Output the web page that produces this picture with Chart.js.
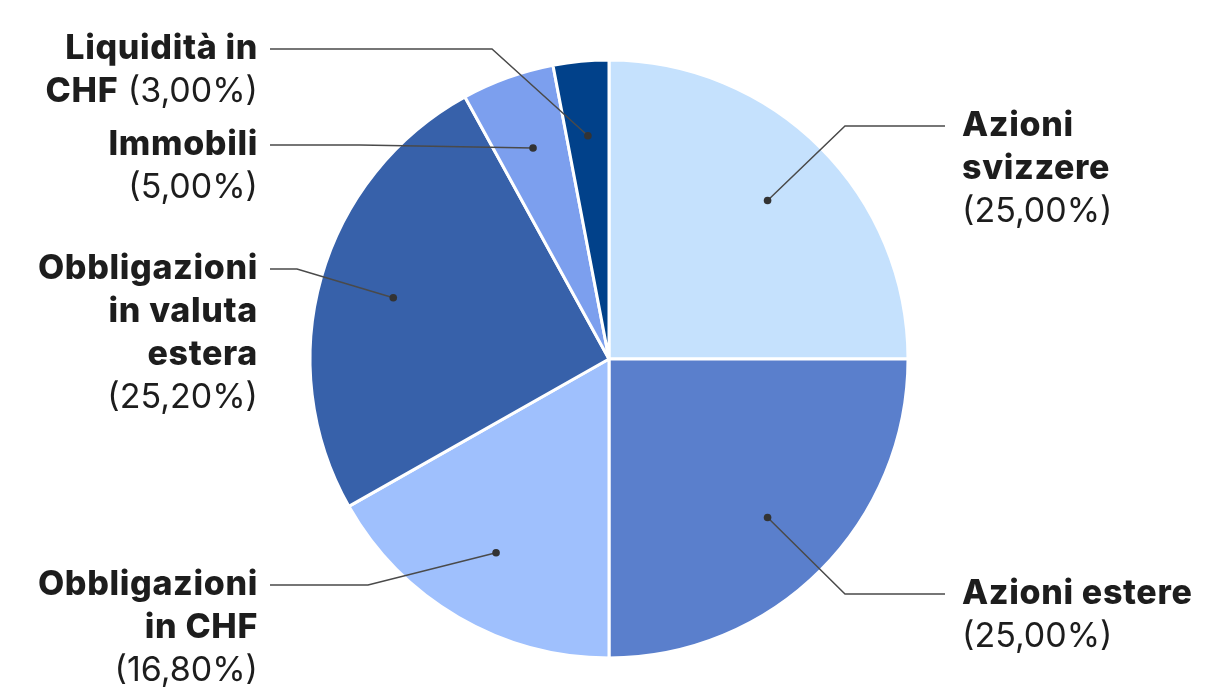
<!DOCTYPE html>
<html>
<head>
<meta charset="utf-8">
<script src="https://cdn.jsdelivr.net/npm/chart.js@4"></script>
<style>
    html, body { margin: 0; padding: 0; background: #ffffff; }
    #wrap { width: 1220px; height: 700px; }
</style>
</head>
<body>
<div id="wrap"><canvas id="pieChart" width="1220" height="700"></canvas></div>
<script>
// Data
const categories = ['Azioni svizzere', 'Azioni estere', 'Obbligazioni in CHF', 'Obbligazioni in valuta estera', 'Immobili', 'Liquidità in CHF'];
const shares = [25.0, 25.0, 16.8, 25.2, 5.0, 3.0];
const sliceColors = ['#c5e1fd', '#5a7fcc', '#9fc0fd', '#3761aa', '#7c9fee', '#01418a'];

// How each label is broken into lines
const nameLines = [
    ['Azioni', 'svizzere'],
    ['Azioni estere'],
    ['Obbligazioni', 'in CHF'],
    ['Obbligazioni', 'in valuta', 'estera'],
    ['Immobili'],
    ['Liquidità in', 'CHF']
];
const pctInline = [false, false, false, false, false, true];

function formatPct(v) {
    return '(' + v.toFixed(2).replace('.', ',') + '%)';
}

// Callout labels with leader lines
const calloutPlugin = {
    id: 'callouts',
    afterDraw(chart, args, opts) {
        const ctx = chart.ctx;
        const meta = chart.getDatasetMeta(0);
        const boldFont = '800 34px Inter';
        const regFont = '400 34px Inter';
        const lineH = 43;

        meta.data.forEach((arc, i) => {
            const p = arc.getProps(['x', 'y', 'startAngle', 'endAngle', 'outerRadius'], true);
            const mid = (p.startAngle + p.endAngle) / 2;
            const dx = p.x + Math.cos(mid) * p.outerRadius * 0.75;
            const dy = p.y + Math.sin(mid) * p.outerRadius * 0.75;
            const lay = opts.layout[i];
            const right = lay.side === 'right';
            const endX = right ? opts.rightLineEnd : opts.leftLineEnd;

            // leader line
            ctx.save();
            ctx.strokeStyle = '#4a4a4a';
            ctx.lineWidth = 1.5;
            ctx.beginPath();
            ctx.moveTo(dx, dy);
            ctx.lineTo(lay.elbowX, lay.y);
            ctx.lineTo(endX, lay.y);
            ctx.stroke();
            ctx.fillStyle = '#333333';
            ctx.beginPath();
            ctx.arc(dx, dy, 3.8, 0, Math.PI * 2);
            ctx.fill();
            ctx.restore();

            // build text lines as segments
            const lines = nameLines[i].map(t => [{ text: t, bold: true }]);
            if (pctInline[i]) {
                lines[lines.length - 1].push({ text: ' ' + formatPct(shares[i]), bold: false });
            } else {
                lines.push([{ text: formatPct(shares[i]), bold: false }]);
            }

            ctx.save();
            ctx.fillStyle = '#1d1d1d';
            ctx.textBaseline = 'middle';
            ctx.textAlign = 'left';
            const setFont = (bold) => {
                ctx.font = bold ? boldFont : regFont;
                ctx.letterSpacing = bold ? '0.65px' : '0px';
            };
            lines.forEach((segs, li) => {
                const y = lay.y + li * lineH;
                let w = 0;
                segs.forEach(s => {
                    setFont(s.bold);
                    s.w = ctx.measureText(s.text).width;
                    w += s.w;
                });
                let x = right ? opts.rightTextX : opts.leftTextX - w;
                segs.forEach(s => {
                    setFont(s.bold);
                    ctx.fillText(s.text, x, y);
                    x += s.w;
                });
            });
            ctx.restore();
        });
    }
};

const chart = new Chart(document.getElementById('pieChart'), {
    type: 'pie',
    data: {
        labels: categories,
        datasets: [{
            data: shares,
            backgroundColor: sliceColors,
            borderColor: '#ffffff',
            borderWidth: 3
        }]
    },
    options: {
        responsive: false,
        animation: false,
        layout: { padding: { top: 58.5, bottom: 40.5, left: 0, right: 2 } },
        plugins: {
            legend: { display: false },
            tooltip: { enabled: false },
            callouts: {
                rightTextX: 962,
                leftTextX: 258,
                rightLineEnd: 945,
                leftLineEnd: 270,
                layout: [
                    { side: 'right', y: 126, elbowX: 845 },
                    { side: 'right', y: 594, elbowX: 845 },
                    { side: 'left', y: 585, elbowX: 368 },
                    { side: 'left', y: 269, elbowX: 297 },
                    { side: 'left', y: 145, elbowX: 360 },
                    { side: 'left', y: 49, elbowX: 492 }
                ]
            }
        }
    },
    plugins: [calloutPlugin]
});
</script>
</body>
</html>
